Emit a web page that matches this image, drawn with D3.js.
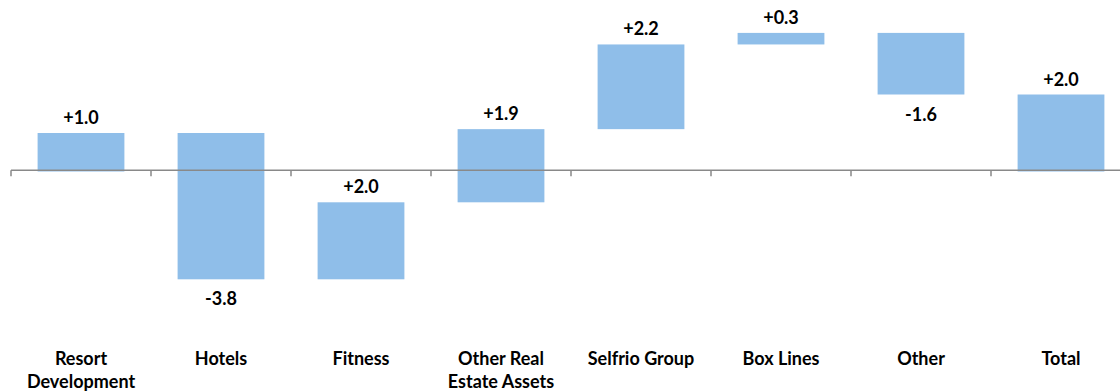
<!DOCTYPE html>
<html>
<head>
<meta charset="utf-8">
<script src="https://cdn.jsdelivr.net/npm/d3@7"></script>
<style>
  html, body { margin: 0; padding: 0; background: #ffffff; }
  svg { display: block; }
  text { font-family: Lato, "Open Sans", sans-serif; font-weight: 700; fill: #000; }
</style>
</head>
<body>
<svg id="chart" width="1120" height="392"></svg>
<script>
const categories = [["Resort", "Development"], ["Hotels"], ["Fitness"], ["Other Real", "Estate Assets"], ["Selfrio Group"], ["Box Lines"], ["Other"], ["Total"]];
const changes = [1.0, -3.8, 2.0, 1.9, 2.2, 0.3, -1.6, 2.0];
const valueLabels = ["+1.0", "-3.8", "+2.0", "+1.9", "+2.2", "+0.3", "-1.6", "+2.0"];
const isTotal = [false, false, false, false, false, false, false, true];

const W = 1120, H = 392;
const svg = d3.select("#chart");

const keys = categories.map(c => c.join(" "));
const x = d3.scaleBand().domain(keys).range([11, 11 + 8 * 140]).paddingInner(0.38).paddingOuter(0.19);
const y = d3.scaleLinear().domain([-4, 4]).range([171.5 + 4 * 38.5, 171.5 - 4 * 38.5]);

// compute waterfall segments
let run = 0;
const bars = changes.map((v, i) => {
  let start, end;
  if (isTotal[i]) { start = 0; end = v; }
  else { start = run; end = run + v; run = end; }
  return { key: keys[i], start, end, v, label: valueLabels[i] };
});

svg.append("g").selectAll("rect").data(bars).join("rect")
  .attr("x", d => x(d.key))
  .attr("width", x.bandwidth())
  .attr("y", d => y(Math.max(d.start, d.end)))
  .attr("height", d => Math.abs(y(d.start) - y(d.end)))
  .attr("fill", "#8FBEE9");

// axis at zero
const axisY = y(0) - 1.2;
const axisG = svg.append("g");
axisG.append("line").attr("x1", 11).attr("x2", W + 20).attr("y1", axisY).attr("y2", axisY)
  .attr("stroke", "#898989").attr("stroke-width", 1.5);
const tickXs = keys.map(k => x(k) - x.step() * x.paddingOuter());
tickXs.push(x(keys[keys.length - 1]) - x.step() * x.paddingOuter() + x.step());
axisG.selectAll("line.tick").data(tickXs).join("line").attr("class", "tick")
  .attr("x1", d => d).attr("x2", d => d)
  .attr("y1", axisY).attr("y2", axisY + 6)
  .attr("stroke", "#898989").attr("stroke-width", 1.5);

// value labels
svg.append("g").selectAll("text").data(bars).join("text")
  .attr("x", d => x(d.key) + x.bandwidth() / 2)
  .attr("y", d => d.v >= 0 ? y(Math.max(d.start, d.end)) - 9 : y(Math.min(d.start, d.end)) + 26)
  .attr("text-anchor", "middle")
  .style("font-size", "18px")
  .text(d => d.label);

// category labels
const cg = svg.append("g").selectAll("text").data(categories).join("text")
  .attr("x", (d, i) => x(keys[i]) + x.bandwidth() / 2)
  .attr("y", 365)
  .attr("text-anchor", "middle")
  .style("font-size", "18px");
cg.selectAll("tspan").data(d => d).join("tspan")
  .attr("x", function () { return d3.select(this.parentNode).attr("x"); })
  .attr("dy", (d, i) => i === 0 ? 0 : 23)
  .text(d => d);
</script>
</body>
</html>
